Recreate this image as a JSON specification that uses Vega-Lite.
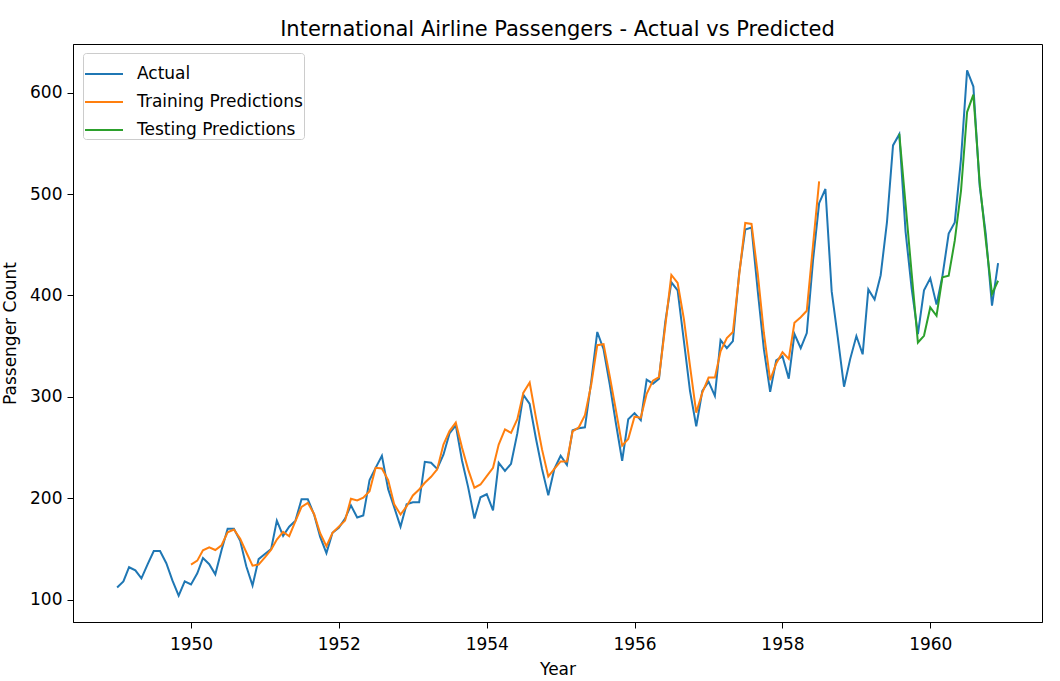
{
  "$schema": "https://vega.github.io/schema/vega-lite/v6.json",
  "width": 969,
  "height": 578,
  "autosize": {"type": "none"},
  "padding": {"left": 73, "top": 44, "right": 18, "bottom": 59},
  "background": "white",
  "title": {"text": "International Airline Passengers - Actual vs Predicted", "font": "DejaVu Sans", "fontSize": 21, "fontWeight": "normal", "color": "black", "offset": 4},
  "config": {
    "view": {"stroke": "black", "strokeWidth": 1},
    "axis": {"grid": false, "domainColor": "black", "tickColor": "black", "labelColor": "black", "titleColor": "black", "labelFont": "DejaVu Sans", "titleFont": "DejaVu Sans", "labelFontSize": 17, "titleFontSize": 17, "titleFontWeight": "normal", "tickSize": 6, "labelPadding": 5}
  },
  "data": {"values": [
{"date":"1949-01-01","value":112,"series":"Actual"},{"date":"1949-02-01","value":118,"series":"Actual"},{"date":"1949-03-01","value":132,"series":"Actual"},{"date":"1949-04-01","value":129,"series":"Actual"},{"date":"1949-05-01","value":121,"series":"Actual"},{"date":"1949-06-01","value":135,"series":"Actual"},{"date":"1949-07-01","value":148,"series":"Actual"},{"date":"1949-08-01","value":148,"series":"Actual"},{"date":"1949-09-01","value":136,"series":"Actual"},{"date":"1949-10-01","value":119,"series":"Actual"},{"date":"1949-11-01","value":104,"series":"Actual"},{"date":"1949-12-01","value":118,"series":"Actual"},
{"date":"1950-01-01","value":115,"series":"Actual"},{"date":"1950-02-01","value":126,"series":"Actual"},{"date":"1950-03-01","value":141,"series":"Actual"},{"date":"1950-04-01","value":135,"series":"Actual"},{"date":"1950-05-01","value":125,"series":"Actual"},{"date":"1950-06-01","value":149,"series":"Actual"},{"date":"1950-07-01","value":170,"series":"Actual"},{"date":"1950-08-01","value":170,"series":"Actual"},{"date":"1950-09-01","value":158,"series":"Actual"},{"date":"1950-10-01","value":133,"series":"Actual"},{"date":"1950-11-01","value":114,"series":"Actual"},{"date":"1950-12-01","value":140,"series":"Actual"},
{"date":"1951-01-01","value":145,"series":"Actual"},{"date":"1951-02-01","value":150,"series":"Actual"},{"date":"1951-03-01","value":178,"series":"Actual"},{"date":"1951-04-01","value":163,"series":"Actual"},{"date":"1951-05-01","value":172,"series":"Actual"},{"date":"1951-06-01","value":178,"series":"Actual"},{"date":"1951-07-01","value":199,"series":"Actual"},{"date":"1951-08-01","value":199,"series":"Actual"},{"date":"1951-09-01","value":184,"series":"Actual"},{"date":"1951-10-01","value":162,"series":"Actual"},{"date":"1951-11-01","value":146,"series":"Actual"},{"date":"1951-12-01","value":166,"series":"Actual"},
{"date":"1952-01-01","value":171,"series":"Actual"},{"date":"1952-02-01","value":180,"series":"Actual"},{"date":"1952-03-01","value":193,"series":"Actual"},{"date":"1952-04-01","value":181,"series":"Actual"},{"date":"1952-05-01","value":183,"series":"Actual"},{"date":"1952-06-01","value":218,"series":"Actual"},{"date":"1952-07-01","value":230,"series":"Actual"},{"date":"1952-08-01","value":242,"series":"Actual"},{"date":"1952-09-01","value":209,"series":"Actual"},{"date":"1952-10-01","value":191,"series":"Actual"},{"date":"1952-11-01","value":172,"series":"Actual"},{"date":"1952-12-01","value":194,"series":"Actual"},
{"date":"1953-01-01","value":196,"series":"Actual"},{"date":"1953-02-01","value":196,"series":"Actual"},{"date":"1953-03-01","value":236,"series":"Actual"},{"date":"1953-04-01","value":235,"series":"Actual"},{"date":"1953-05-01","value":229,"series":"Actual"},{"date":"1953-06-01","value":243,"series":"Actual"},{"date":"1953-07-01","value":264,"series":"Actual"},{"date":"1953-08-01","value":272,"series":"Actual"},{"date":"1953-09-01","value":237,"series":"Actual"},{"date":"1953-10-01","value":211,"series":"Actual"},{"date":"1953-11-01","value":180,"series":"Actual"},{"date":"1953-12-01","value":201,"series":"Actual"},
{"date":"1954-01-01","value":204,"series":"Actual"},{"date":"1954-02-01","value":188,"series":"Actual"},{"date":"1954-03-01","value":235,"series":"Actual"},{"date":"1954-04-01","value":227,"series":"Actual"},{"date":"1954-05-01","value":234,"series":"Actual"},{"date":"1954-06-01","value":264,"series":"Actual"},{"date":"1954-07-01","value":302,"series":"Actual"},{"date":"1954-08-01","value":293,"series":"Actual"},{"date":"1954-09-01","value":259,"series":"Actual"},{"date":"1954-10-01","value":229,"series":"Actual"},{"date":"1954-11-01","value":203,"series":"Actual"},{"date":"1954-12-01","value":229,"series":"Actual"},
{"date":"1955-01-01","value":242,"series":"Actual"},{"date":"1955-02-01","value":233,"series":"Actual"},{"date":"1955-03-01","value":267,"series":"Actual"},{"date":"1955-04-01","value":269,"series":"Actual"},{"date":"1955-05-01","value":270,"series":"Actual"},{"date":"1955-06-01","value":315,"series":"Actual"},{"date":"1955-07-01","value":364,"series":"Actual"},{"date":"1955-08-01","value":347,"series":"Actual"},{"date":"1955-09-01","value":312,"series":"Actual"},{"date":"1955-10-01","value":274,"series":"Actual"},{"date":"1955-11-01","value":237,"series":"Actual"},{"date":"1955-12-01","value":278,"series":"Actual"},
{"date":"1956-01-01","value":284,"series":"Actual"},{"date":"1956-02-01","value":277,"series":"Actual"},{"date":"1956-03-01","value":317,"series":"Actual"},{"date":"1956-04-01","value":313,"series":"Actual"},{"date":"1956-05-01","value":318,"series":"Actual"},{"date":"1956-06-01","value":374,"series":"Actual"},{"date":"1956-07-01","value":413,"series":"Actual"},{"date":"1956-08-01","value":405,"series":"Actual"},{"date":"1956-09-01","value":355,"series":"Actual"},{"date":"1956-10-01","value":306,"series":"Actual"},{"date":"1956-11-01","value":271,"series":"Actual"},{"date":"1956-12-01","value":306,"series":"Actual"},
{"date":"1957-01-01","value":315,"series":"Actual"},{"date":"1957-02-01","value":301,"series":"Actual"},{"date":"1957-03-01","value":356,"series":"Actual"},{"date":"1957-04-01","value":348,"series":"Actual"},{"date":"1957-05-01","value":355,"series":"Actual"},{"date":"1957-06-01","value":422,"series":"Actual"},{"date":"1957-07-01","value":465,"series":"Actual"},{"date":"1957-08-01","value":467,"series":"Actual"},{"date":"1957-09-01","value":404,"series":"Actual"},{"date":"1957-10-01","value":347,"series":"Actual"},{"date":"1957-11-01","value":305,"series":"Actual"},{"date":"1957-12-01","value":336,"series":"Actual"},
{"date":"1958-01-01","value":340,"series":"Actual"},{"date":"1958-02-01","value":318,"series":"Actual"},{"date":"1958-03-01","value":362,"series":"Actual"},{"date":"1958-04-01","value":348,"series":"Actual"},{"date":"1958-05-01","value":363,"series":"Actual"},{"date":"1958-06-01","value":435,"series":"Actual"},{"date":"1958-07-01","value":491,"series":"Actual"},{"date":"1958-08-01","value":505,"series":"Actual"},{"date":"1958-09-01","value":404,"series":"Actual"},{"date":"1958-10-01","value":359,"series":"Actual"},{"date":"1958-11-01","value":310,"series":"Actual"},{"date":"1958-12-01","value":337,"series":"Actual"},
{"date":"1959-01-01","value":360,"series":"Actual"},{"date":"1959-02-01","value":342,"series":"Actual"},{"date":"1959-03-01","value":406,"series":"Actual"},{"date":"1959-04-01","value":396,"series":"Actual"},{"date":"1959-05-01","value":420,"series":"Actual"},{"date":"1959-06-01","value":472,"series":"Actual"},{"date":"1959-07-01","value":548,"series":"Actual"},{"date":"1959-08-01","value":559,"series":"Actual"},{"date":"1959-09-01","value":463,"series":"Actual"},{"date":"1959-10-01","value":407,"series":"Actual"},{"date":"1959-11-01","value":362,"series":"Actual"},{"date":"1959-12-01","value":405,"series":"Actual"},
{"date":"1960-01-01","value":417,"series":"Actual"},{"date":"1960-02-01","value":391,"series":"Actual"},{"date":"1960-03-01","value":419,"series":"Actual"},{"date":"1960-04-01","value":461,"series":"Actual"},{"date":"1960-05-01","value":472,"series":"Actual"},{"date":"1960-06-01","value":535,"series":"Actual"},{"date":"1960-07-01","value":622,"series":"Actual"},{"date":"1960-08-01","value":606,"series":"Actual"},{"date":"1960-09-01","value":508,"series":"Actual"},{"date":"1960-10-01","value":461,"series":"Actual"},{"date":"1960-11-01","value":390,"series":"Actual"},{"date":"1960-12-01","value":432,"series":"Actual"},
{"date":"1950-01-01","value":134.6,"series":"Training Predictions"},{"date":"1950-02-01","value":138.5,"series":"Training Predictions"},{"date":"1950-03-01","value":148.7,"series":"Training Predictions"},{"date":"1950-04-01","value":151.7,"series":"Training Predictions"},{"date":"1950-05-01","value":149,"series":"Training Predictions"},{"date":"1950-06-01","value":153.7,"series":"Training Predictions"},{"date":"1950-07-01","value":166.5,"series":"Training Predictions"},{"date":"1950-08-01","value":169.2,"series":"Training Predictions"},{"date":"1950-09-01","value":160,"series":"Training Predictions"},{"date":"1950-10-01","value":146.8,"series":"Training Predictions"},{"date":"1950-11-01","value":133.6,"series":"Training Predictions"},{"date":"1950-12-01","value":134.6,"series":"Training Predictions"},
{"date":"1951-01-01","value":141.8,"series":"Training Predictions"},{"date":"1951-02-01","value":149.4,"series":"Training Predictions"},{"date":"1951-03-01","value":159.3,"series":"Training Predictions"},{"date":"1951-04-01","value":166.9,"series":"Training Predictions"},{"date":"1951-05-01","value":162.6,"series":"Training Predictions"},{"date":"1951-06-01","value":177.4,"series":"Training Predictions"},{"date":"1951-07-01","value":191.5,"series":"Training Predictions"},{"date":"1951-08-01","value":195.5,"series":"Training Predictions"},{"date":"1951-09-01","value":184.5,"series":"Training Predictions"},{"date":"1951-10-01","value":165.5,"series":"Training Predictions"},{"date":"1951-11-01","value":152.7,"series":"Training Predictions"},{"date":"1951-12-01","value":166,"series":"Training Predictions"},
{"date":"1952-01-01","value":172,"series":"Training Predictions"},{"date":"1952-02-01","value":178,"series":"Training Predictions"},{"date":"1952-03-01","value":199.5,"series":"Training Predictions"},{"date":"1952-04-01","value":197.8,"series":"Training Predictions"},{"date":"1952-05-01","value":200.5,"series":"Training Predictions"},{"date":"1952-06-01","value":207,"series":"Training Predictions"},{"date":"1952-07-01","value":230,"series":"Training Predictions"},{"date":"1952-08-01","value":229.4,"series":"Training Predictions"},{"date":"1952-09-01","value":218,"series":"Training Predictions"},{"date":"1952-10-01","value":194,"series":"Training Predictions"},{"date":"1952-11-01","value":184,"series":"Training Predictions"},{"date":"1952-12-01","value":192,"series":"Training Predictions"},
{"date":"1953-01-01","value":202.8,"series":"Training Predictions"},{"date":"1953-02-01","value":208.7,"series":"Training Predictions"},{"date":"1953-03-01","value":215.3,"series":"Training Predictions"},{"date":"1953-04-01","value":221.2,"series":"Training Predictions"},{"date":"1953-05-01","value":228.5,"series":"Training Predictions"},{"date":"1953-06-01","value":253,"series":"Training Predictions"},{"date":"1953-07-01","value":266.3,"series":"Training Predictions"},{"date":"1953-08-01","value":274.6,"series":"Training Predictions"},{"date":"1953-09-01","value":249.9,"series":"Training Predictions"},{"date":"1953-10-01","value":228.5,"series":"Training Predictions"},{"date":"1953-11-01","value":210.4,"series":"Training Predictions"},{"date":"1953-12-01","value":213.6,"series":"Training Predictions"},
{"date":"1954-01-01","value":221.8,"series":"Training Predictions"},{"date":"1954-02-01","value":230.1,"series":"Training Predictions"},{"date":"1954-03-01","value":253,"series":"Training Predictions"},{"date":"1954-04-01","value":268,"series":"Training Predictions"},{"date":"1954-05-01","value":264.5,"series":"Training Predictions"},{"date":"1954-06-01","value":278,"series":"Training Predictions"},{"date":"1954-07-01","value":304.2,"series":"Training Predictions"},{"date":"1954-08-01","value":314.1,"series":"Training Predictions"},{"date":"1954-09-01","value":279.5,"series":"Training Predictions"},{"date":"1954-10-01","value":248.2,"series":"Training Predictions"},{"date":"1954-11-01","value":221.5,"series":"Training Predictions"},{"date":"1954-12-01","value":229,"series":"Training Predictions"},
{"date":"1955-01-01","value":236.4,"series":"Training Predictions"},{"date":"1955-02-01","value":236.4,"series":"Training Predictions"},{"date":"1955-03-01","value":266,"series":"Training Predictions"},{"date":"1955-04-01","value":270,"series":"Training Predictions"},{"date":"1955-05-01","value":282,"series":"Training Predictions"},{"date":"1955-06-01","value":312,"series":"Training Predictions"},{"date":"1955-07-01","value":351,"series":"Training Predictions"},{"date":"1955-08-01","value":352,"series":"Training Predictions"},{"date":"1955-09-01","value":320,"series":"Training Predictions"},{"date":"1955-10-01","value":287,"series":"Training Predictions"},{"date":"1955-11-01","value":252,"series":"Training Predictions"},{"date":"1955-12-01","value":258.5,"series":"Training Predictions"},
{"date":"1956-01-01","value":280.5,"series":"Training Predictions"},{"date":"1956-02-01","value":279.5,"series":"Training Predictions"},{"date":"1956-03-01","value":303,"series":"Training Predictions"},{"date":"1956-04-01","value":316,"series":"Training Predictions"},{"date":"1956-05-01","value":319.5,"series":"Training Predictions"},{"date":"1956-06-01","value":370,"series":"Training Predictions"},{"date":"1956-07-01","value":420.2,"series":"Training Predictions"},{"date":"1956-08-01","value":412.3,"series":"Training Predictions"},{"date":"1956-09-01","value":376.7,"series":"Training Predictions"},{"date":"1956-10-01","value":330.5,"series":"Training Predictions"},{"date":"1956-11-01","value":284.5,"series":"Training Predictions"},{"date":"1956-12-01","value":304.2,"series":"Training Predictions"},
{"date":"1957-01-01","value":319,"series":"Training Predictions"},{"date":"1957-02-01","value":319,"series":"Training Predictions"},{"date":"1957-03-01","value":345,"series":"Training Predictions"},{"date":"1957-04-01","value":358,"series":"Training Predictions"},{"date":"1957-05-01","value":364,"series":"Training Predictions"},{"date":"1957-06-01","value":420,"series":"Training Predictions"},{"date":"1957-07-01","value":471.5,"series":"Training Predictions"},{"date":"1957-08-01","value":470.6,"series":"Training Predictions"},{"date":"1957-09-01","value":421,"series":"Training Predictions"},{"date":"1957-10-01","value":363,"series":"Training Predictions"},{"date":"1957-11-01","value":316.5,"series":"Training Predictions"},{"date":"1957-12-01","value":333,"series":"Training Predictions"},
{"date":"1958-01-01","value":344,"series":"Training Predictions"},{"date":"1958-02-01","value":337.5,"series":"Training Predictions"},{"date":"1958-03-01","value":373,"series":"Training Predictions"},{"date":"1958-04-01","value":378.6,"series":"Training Predictions"},{"date":"1958-05-01","value":385,"series":"Training Predictions"},{"date":"1958-06-01","value":450,"series":"Training Predictions"},{"date":"1958-07-01","value":512.5,"series":"Training Predictions"},
{"date":"1959-08-01","value":559.5,"series":"Testing Predictions"},{"date":"1959-09-01","value":490,"series":"Testing Predictions"},{"date":"1959-10-01","value":422,"series":"Testing Predictions"},{"date":"1959-11-01","value":353.6,"series":"Testing Predictions"},{"date":"1959-12-01","value":360.2,"series":"Testing Predictions"},{"date":"1960-01-01","value":388.2,"series":"Testing Predictions"},{"date":"1960-02-01","value":380,"series":"Testing Predictions"},{"date":"1960-03-01","value":417.9,"series":"Testing Predictions"},{"date":"1960-04-01","value":419.5,"series":"Testing Predictions"},{"date":"1960-05-01","value":454,"series":"Testing Predictions"},{"date":"1960-06-01","value":503.5,"series":"Testing Predictions"},{"date":"1960-07-01","value":580.9,"series":"Testing Predictions"},{"date":"1960-08-01","value":598,"series":"Testing Predictions"},{"date":"1960-09-01","value":512,"series":"Testing Predictions"},{"date":"1960-10-01","value":455,"series":"Testing Predictions"},{"date":"1960-11-01","value":401.4,"series":"Testing Predictions"},{"date":"1960-12-01","value":414.5,"series":"Testing Predictions"}
  ]},
  "mark": {"type": "line", "strokeWidth": 2},
  "encoding": {
    "x": {"field": "date", "type": "temporal", "title": "Year",
      "scale": {"type": "utc", "domain": [{"year": 1948, "month": 5, "date": 28, "utc": true}, {"year": 1961, "month": 7, "date": 6, "utc": true}]},
      "axis": {"format": "%Y", "formatType": "utc", "tickCount": {"interval": "year", "step": 2}, "labelAngle": 0, "labelPadding": 8, "titlePadding": 9}},
    "y": {"field": "value", "type": "quantitative", "title": "Passenger Count",
      "scale": {"domain": [78, 648], "zero": false, "nice": false},
      "axis": {"values": [100, 200, 300, 400, 500, 600], "titlePadding": 10}},
    "color": {"field": "series", "type": "nominal",
      "scale": {"domain": ["Actual", "Training Predictions", "Testing Predictions"], "range": ["#1f77b4", "#ff7f0e", "#2ca02c"]},
      "legend": {"title": null, "orient": "none", "legendX": 10, "legendY": 9, "symbolType": "stroke", "symbolSize": 1444, "symbolStrokeWidth": 2, "labelFont": "DejaVu Sans", "labelFontSize": 17, "labelColor": "black", "labelOffset": 13, "labelLimit": 500, "rowPadding": -3, "padding": 1, "fillColor": "white", "strokeColor": "#cccccc", "cornerRadius": 3}}
  }
}
